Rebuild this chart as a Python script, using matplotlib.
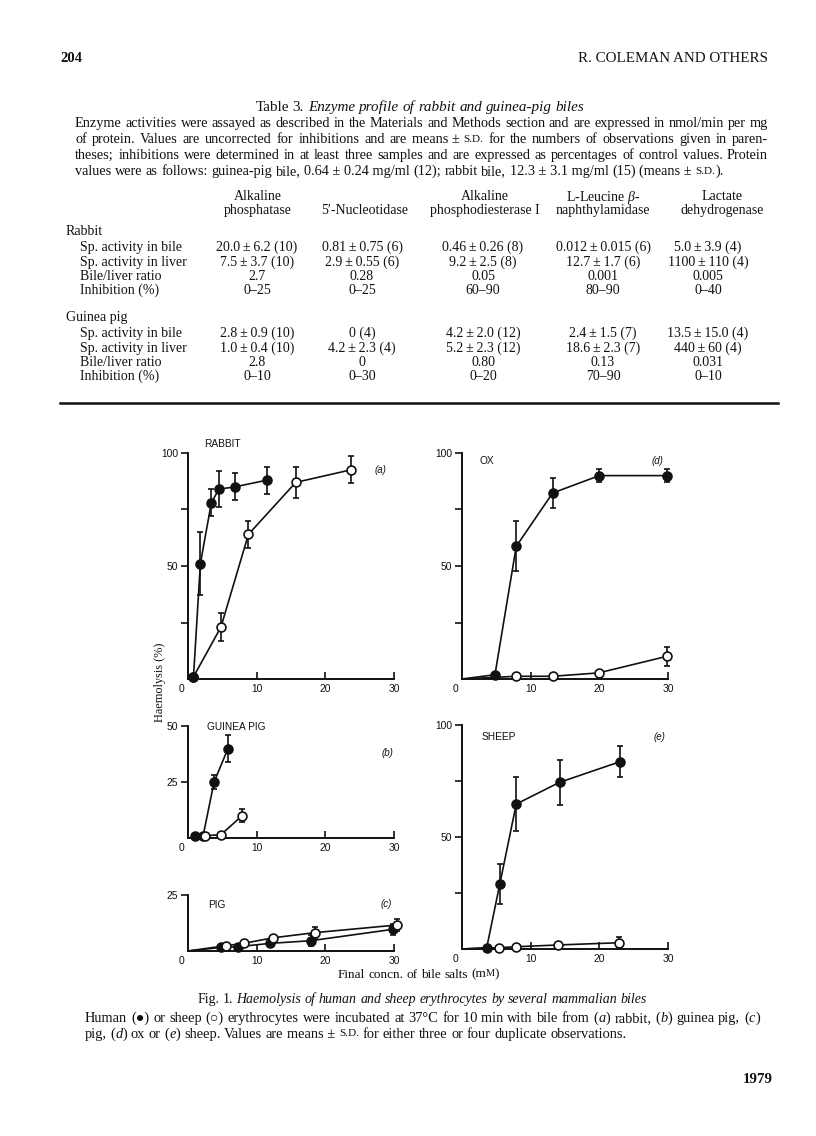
import matplotlib
matplotlib.use("Agg")
import matplotlib.pyplot as plt
from matplotlib.lines import Line2D

W, H = 816, 1136
SERIF = ["Liberation Serif", "DejaVu Serif"]
SANS = ["Liberation Sans", "DejaVu Sans"]
INK = "#111111"

plt.rcParams["font.family"] = SANS
plt.rcParams["mathtext.fontset"] = "custom"
plt.rcParams["mathtext.rm"] = "Liberation Serif"
plt.rcParams["mathtext.it"] = "Liberation Serif:italic"

# ---------------- table data ----------------
enzymes_line1 = ["Alkaline", "", "Alkaline", r"L-Leucine $\beta$-", "Lactate"]
enzymes_line2 = ["phosphatase", "5\u2032-Nucleotidase", "phosphodiesterase I",
                 "naphthylamidase", "dehydrogenase"]
row_labels = ["Sp. activity in bile", "Sp. activity in liver",
              "Bile/liver ratio", "Inhibition (%)"]
groups = ["Rabbit", "Guinea pig"]
rabbit_bile = ["20.0\u2009±\u20096.2 (10)", "0.81\u2009±\u20090.75 (6)", "0.46\u2009±\u20090.26 (8)",
               "0.012\u2009±\u20090.015 (6)", "5.0\u2009±\u20093.9 (4)"]
rabbit_liver = ["7.5\u2009±\u20093.7 (10)", "2.9\u2009±\u20090.55 (6)", "9.2\u2009±\u20092.5 (8)",
                "12.7\u2009±\u20091.7 (6)", "1100\u2009±\u2009110 (4)"]
rabbit_ratio = ["2.7", "0.28", "0.05", "0.001", "0.005"]
rabbit_inhib = ["0–25", "0–25", "60–90", "80–90", "0–40"]
gp_bile = ["2.8\u2009±\u20090.9 (10)", "0 (4)", "4.2\u2009±\u20092.0 (12)",
           "2.4\u2009±\u20091.5 (7)", "13.5\u2009±\u200915.0 (4)"]
gp_liver = ["1.0\u2009±\u20090.4 (10)", "4.2\u2009±\u20092.3 (4)", "5.2\u2009±\u20092.3 (12)",
            "18.6\u2009±\u20092.3 (7)", "440\u2009±\u200960 (4)"]
gp_ratio = ["2.8", "0", "0.80", "0.13", "0.031"]
gp_inhib = ["0–10", "0–30", "0–20", "70–90", "0–10"]

# ---------------- figure data (bile salts mM, haemolysis %) ----------------
rabbit_h_x = [0.8, 1.8, 3.4, 4.5, 6.8, 11.5]
rabbit_h_y = [1, 51, 78, 84, 85, 88]
rabbit_h_e = [0, 14, 6, 8, 6, 6]
rabbit_s_x = [0.8, 4.8, 8.8, 15.7, 23.8]
rabbit_s_y = [1, 23, 64, 87, 92.6]
rabbit_s_e = [0, 6, 6, 7, 6]

gpig_h_x = [1.0, 2.2, 3.8, 5.8]
gpig_h_y = [1, 1, 25, 39.8]
gpig_h_e = [0, 0, 3, 6]
gpig_s_x = [2.5, 4.8, 7.9]
gpig_s_y = [1, 1.5, 10]
gpig_s_e = [0, 0, 3]

pig_h_x = [4.8, 7.3, 11.9, 17.9, 29.9]
pig_h_y = [1.6, 1.9, 3.4, 4.6, 9.7]
pig_h_e = [0, 0, 0, 2.5, 2.5]
pig_s_x = [5.6, 8.1, 12.4, 18.5, 30.4]
pig_s_y = [2.4, 3.4, 5.9, 8.2, 11.6]
pig_s_e = [0, 0, 0, 2.5, 2.5]

ox_h_x = [4.8, 7.9, 13.2, 20.0, 29.9]
ox_h_y = [1.9, 58.7, 82.3, 90, 90]
ox_h_e = [0, 11, 6.5, 3, 3]
ox_s_x = [7.9, 13.2, 19.9, 29.8]
ox_s_y = [1.2, 1.2, 2.7, 10]
ox_s_e = [0, 0, 0, 4.3]

sheep_h_x = [3.6, 5.5, 7.9, 14.2, 23.0]
sheep_h_y = [0.6, 28.9, 64.7, 74.4, 83.6]
sheep_h_e = [0, 9, 12, 10, 7]
sheep_s_x = [5.4, 7.9, 14.0, 22.9]
sheep_s_y = [0.6, 1.0, 1.8, 2.8]
sheep_s_e = [0, 0, 0, 2.5]

fig = plt.figure(figsize=(W / 100, H / 100), dpi=100)
fig.patch.set_facecolor("white")
R = fig.canvas.get_renderer()


def fx(x):
    return x / W


def fy(y):
    return 1 - y / H


def txt(x, y, s, size, family=SERIF, ha="center", style="normal", weight="normal",
        va="center_baseline", **kw):
    return fig.text(fx(x), fy(y), s, fontsize=size, family=family, ha=ha,
                    va=va, style=style, weight=weight, color=INK, **kw)


def tokenize(segs):
    words = [[]]
    for text, st in segs:
        parts = text.split(" ")
        for k, p in enumerate(parts):
            if k > 0:
                words.append([])
            if p:
                words[-1].append((p, st))
    return [w for w in words if w]


def measure(segs, size, family=SERIF):
    words = tokenize(segs)
    measured = []
    for w in words:
        pcs = []
        for text, st in w:
            fs = size * 0.78 if st == "sc" else size
            t = fig.text(0, 0, text.upper() if st == "sc" else text, fontsize=fs,
                         family=family, style="italic" if st == "i" else "normal",
                         va="center_baseline", ha="left", color=INK)
            pcs.append((t, t.get_window_extent(R).width))
        measured.append(pcs)
    return measured


def natural_width(segs, size, family=SERIF):
    m = measure(segs, size, family)
    ww = sum(sum(p[1] for p in pcs) for pcs in m)
    for pcs in m:
        for t, _ in pcs:
            t.remove()
    return ww + size * 100 / 72 * 0.25 * (len(m) - 1)


def fit_size(segs, target, size0=10.0, family=SERIF):
    return size0 * target / natural_width(segs, size0, family)


def runs(x, y, segs, size, target=None, ha="left", family=SERIF):
    measured = measure(segs, size, family)
    ww = [sum(p[1] for p in pcs) for pcs in measured]
    space = size * 100 / 72 * 0.25
    n = len(measured)
    gap = (target - sum(ww)) / (n - 1) if (target and n > 1) else space
    total = sum(ww) + gap * (n - 1)
    if ha == "center":
        cx = x - total / 2
    elif ha == "right":
        cx = x - total
    else:
        cx = x
    for pcs in measured:
        for t, wpx in pcs:
            t.set_position((fx(cx), fy(y)))
            cx += wpx
        cx += gap


# ---------------- page header ----------------
txt(60, 57, "204", 10.5, ha="left", weight="bold")
txt(768, 57, "R. COLEMAN AND OTHERS", 10.8, ha="right")

title_segs = [("Table 3.", "r"), (" Enzyme profile of rabbit and guinea-pig biles", "i")]
runs(420, 106, title_segs, fit_size(title_segs, 329), ha="center")

p1 = [("Enzyme activities were assayed as described in the Materials and Methods section and are expressed in nmol/min per mg", "r")]
p2 = [("of protein. Values are uncorrected for inhibitions and are means\u00a0±\u00a0", "r"),
      ("s.d.", "sc"), (" for the numbers of observations given in paren-", "r")]
p3 = [("theses; inhibitions were determined in at least three samples and are expressed as percentages of control values. Protein", "r")]
p4 = [("values were as follows: guinea-pig bile, 0.64\u00a0±\u00a00.24\u00a0mg/ml (12); rabbit bile, 12.3\u00a0±\u00a03.1\u00a0mg/ml (15) (means\u00a0±\u00a0", "r"),
      ("s.d.", "sc"), (").", "r")]
PS = min(fit_size(p1, 690), fit_size(p2, 690), fit_size(p3, 690))
ys_para = [122, 138, 154, 170]
runs(75, ys_para[0], p1, PS, target=693)
runs(75, ys_para[1], p2, PS, target=693)
runs(75, ys_para[2], p3, PS, target=693)
runs(75, ys_para[3], p4, PS)

# ---------------- table ----------------
head_x = [258, 365, 485, 603, 722]
val_x = [257, 362, 483, 603, 708]
TS = 10.0
for hx, a, b in zip(head_x, enzymes_line1, enzymes_line2):
    if a:
        txt(hx, 195, a, TS)
    txt(hx, 209, b, TS)

group_y = [230, 316]
row_y = [[246, 261, 275, 289], [332, 347, 361, 375]]
group_vals = [[rabbit_bile, rabbit_liver, rabbit_ratio, rabbit_inhib],
              [gp_bile, gp_liver, gp_ratio, gp_inhib]]
for g, gy, rys, vals in zip(groups, group_y, row_y, group_vals):
    txt(66, gy, g, TS, ha="left")
    for lab, ry, rowvals in zip(row_labels, rys, vals):
        txt(80, ry, lab, TS, ha="left")
        for vx, v in zip(val_x, rowvals):
            txt(vx, ry, v, TS)

fig.add_artist(Line2D([fx(60), fx(778)], [fy(403), fy(403)], lw=1.8, color=INK))

# ---------------- panels ----------------
LW = 1.2
MS = 6.4
TICKFS = 7.4


def add_panel(x0, x1, ybot, ytop, ymax, yticks, ylabels):
    ax = fig.add_axes([fx(x0), fy(ybot), (x1 - x0) / W, (ybot - ytop) / H])
    ax.set_xlim(0, 30)
    ax.set_ylim(0, ymax)
    ax.patch.set_alpha(0)
    for s in ["top", "right"]:
        ax.spines[s].set_visible(False)
    for s in ["left", "bottom"]:
        ax.spines[s].set_linewidth(1.4)
        ax.spines[s].set_color(INK)
    ax.set_xticks([10, 20, 30])
    ax.set_xticklabels(["10", "20", "30"])
    ax.tick_params(axis="x", direction="in", length=5, width=1.2, pad=3.5,
                   labelsize=TICKFS, colors=INK)
    ax.set_yticks(yticks)
    ax.set_yticklabels(ylabels)
    ax.tick_params(axis="y", direction="out", length=5, width=1.2, pad=2,
                   labelsize=TICKFS, colors=INK)
    ax.annotate("0", xy=(0, 0), xycoords="data", xytext=(-4.5, -3.6),
                textcoords="offset points", ha="center", va="top",
                fontsize=TICKFS, color=INK)
    return ax


def series(ax, x, y, e, filled, z, from_origin=False):
    lx = ([0] + list(x)) if from_origin else list(x)
    ly = ([0] + list(y)) if from_origin else list(y)
    ax.plot(lx, ly, "-", color=INK, lw=LW, zorder=z - 0.5, clip_on=False)
    ax.errorbar(x, y, yerr=e, fmt="o", color=INK, mfc=INK if filled else "white",
                mec=INK, mew=1.2, ms=MS, elinewidth=LW, capsize=2.3, capthick=LW,
                zorder=z, clip_on=False)


def panel_text(ax, name, nx, ny, letter, lx, ly):
    ax.text(nx, ny, name, fontsize=7.3, family=SANS, ha="left", va="center", color=INK)
    ax.text(lx, ly, "(" + letter + ")", fontsize=7.0, family=SANS, style="italic",
            ha="center", va="center", color=INK)


ax_a = add_panel(188, 394, 679, 453, 100, [25, 50, 75, 100], ["", "50", "", "100"])
series(ax_a, rabbit_s_x, rabbit_s_y, rabbit_s_e, False, 3)
series(ax_a, rabbit_h_x, rabbit_h_y, rabbit_h_e, True, 4)
panel_text(ax_a, "RABBIT", 2.4, 104, "a", 28, 92.5)

ax_d = add_panel(462, 668, 679, 453, 100, [25, 50, 75, 100], ["", "50", "", "100"])
series(ax_d, ox_h_x, ox_h_y, ox_h_e, True, 3, from_origin=True)
series(ax_d, ox_s_x, ox_s_y, ox_s_e, False, 4, from_origin=True)
panel_text(ax_d, "OX", 2.6, 96.5, "d", 28.5, 96.5)

ax_b = add_panel(188, 394, 838, 726, 50, [25, 50], ["25", "50"])
series(ax_b, gpig_h_x, gpig_h_y, gpig_h_e, True, 3)
series(ax_b, gpig_s_x, gpig_s_y, gpig_s_e, False, 4)
panel_text(ax_b, "GUINEA PIG", 2.8, 49.5, "b", 29, 38)

ax_c = add_panel(188, 394, 951, 895, 25, [25], ["25"])
series(ax_c, pig_h_x, pig_h_y, pig_h_e, True, 3, from_origin=True)
series(ax_c, pig_s_x, pig_s_y, pig_s_e, False, 4, from_origin=True)
panel_text(ax_c, "PIG", 2.9, 20.5, "c", 28.8, 21)

ax_e = add_panel(462, 668, 949, 725, 100, [25, 50, 75, 100], ["", "50", "", "100"])
series(ax_e, sheep_h_x, sheep_h_y, sheep_h_e, True, 3, from_origin=True)
series(ax_e, sheep_s_x, sheep_s_y, sheep_s_e, False, 4, from_origin=True)
panel_text(ax_e, "SHEEP", 2.9, 94.6, "e", 28.7, 94.6)

# axis titles
txt(160, 682, "Haemolysis (%)", 8.8, rotation=90, va="center")
xl_segs = [("Final concn. of bile salts (m", "r"), ("M", "sc"), (")", "r")]
runs(338, 973, xl_segs, fit_size(xl_segs, 161))

# ---------------- figure caption ----------------
f_title = [("Fig. 1.", "r"),
           (" Haemolysis of human and sheep erythrocytes by several mammalian biles", "i")]
runs(422, 998, f_title, fit_size(f_title, 450), ha="center")
c1 = [("Human (●) or sheep (○) erythrocytes were incubated at 37°C for 10\u00a0min with bile from (", "r"),
      ("a", "i"), (") rabbit, (", "r"), ("b", "i"), (") guinea pig, (", "r"),
      ("c", "i"), (")", "r")]
c2 = [("pig, (", "r"), ("d", "i"), (") ox or (", "r"), ("e", "i"),
      (") sheep. Values are means\u00a0±\u00a0", "r"), ("s.d.", "sc"),
      (" for either three or four duplicate observations.", "r")]
CS = fit_size(c1, 672)
runs(85, 1017, c1, CS, target=675)
runs(85, 1033, c2, CS)
txt(773, 1078, "1979", 10.8, ha="right", weight="bold")

fig.savefig("out.png", dpi=100, facecolor="white")
